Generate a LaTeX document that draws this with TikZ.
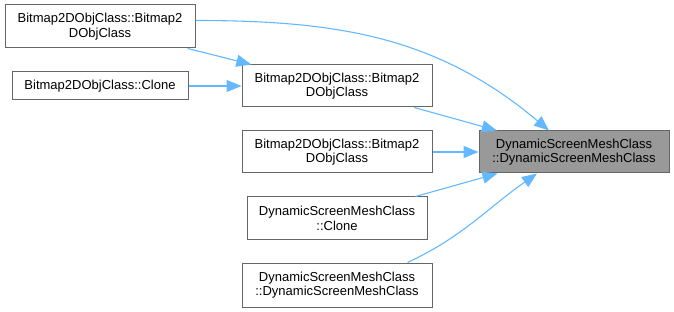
\documentclass[tikz,border=0pt]{standalone}
\usepackage{fontspec}
\setmainfont{Liberation Sans}
\usetikzlibrary{positioning,arrows.meta,calc}
\definecolor{edgeblue}{HTML}{63B8FF}
\definecolor{boxgray}{HTML}{666666}
\definecolor{hlgray}{HTML}{999999}
\tikzset{>={Triangle[length=15pt,width=12pt]}}

\begin{document}
\begin{tikzpicture}[x=1pt,y=-1pt,
    fn/.style={draw=boxgray,line width=1pt,fill=white,align=center,inner sep=0pt,
      minimum width=190,minimum height=43,font=\fontsize{13}{14.5}\selectfont},
    call/.style={->,color=edgeblue,line width=1.1pt}]
    \useasboundingbox (0,0) rectangle (674,312);
    \node[fn] (b2dA) at (100,26.5) {Bitmap2DObjClass::Bitmap2\\DObjClass};
    \node[fn,minimum width=176,minimum height=28] (b2dclone) at (100,86) {Bitmap2DObjClass::Clone};
    \node[fn,minimum height=42] (b2dB) at (337,86) {Bitmap2DObjClass::Bitmap2\\DObjClass};
    \node[fn,minimum height=42,fill=hlgray] (dsm) at (574,152) {DynamicScreenMeshClass\\::DynamicScreenMeshClass}; %target
    \node[fn,minimum height=42] (b2dC) at (337,152) {Bitmap2DObjClass::Bitmap2\\DObjClass};
    \node[fn,minimum width=180] (dsmclone) at (337,218.5) {DynamicScreenMeshClass\\::Clone};
    \node[fn,minimum height=44] (dsmdsm) at (337,285) {DynamicScreenMeshClass\\::DynamicScreenMeshClass};
    \path[call] (b2dA) edge (b2dB)
              (b2dclone) edge (b2dB)
              (b2dB) edge (dsm)
              (b2dC) edge (dsm)
              (dsmclone) edge (dsm);
    \draw[call] ([yshift=6pt]b2dA.east) to[out=0,in=140] ([xshift=-25pt]dsm.north);
    \draw[call] ([xshift=-25pt]dsmdsm.north east) to[out=25,in=-145] ([xshift=-37pt]dsm.south);
\end{tikzpicture}
\end{document}
